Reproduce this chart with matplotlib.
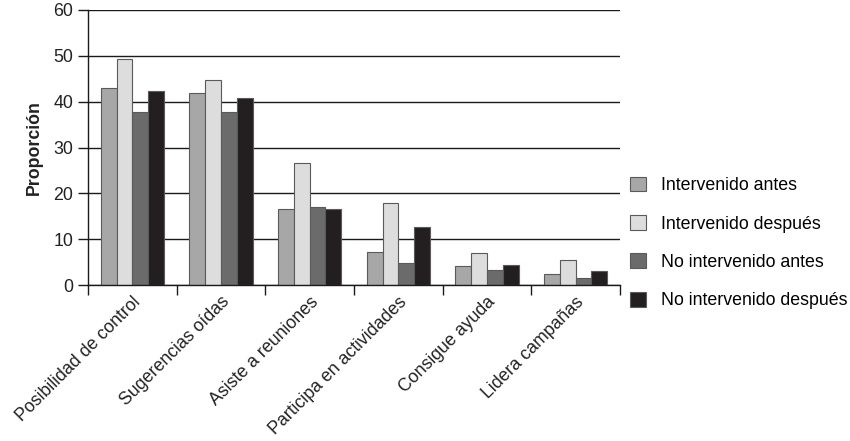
import numpy as np
import matplotlib
matplotlib.use("Agg")
import matplotlib.pyplot as plt

plt.rcParams['font.family'] = ['Liberation Sans', 'DejaVu Sans']

# datos
categorias = ["Posibilidad de control", "Sugerencias oídas", "Asiste a reuniones",
              "Participa en actividades", "Consigue ayuda", "Lidera campañas"]
series = ["Intervenido antes", "Intervenido después",
          "No intervenido antes", "No intervenido después"]
intervenido_antes = [43.0, 42.0, 16.5, 7.1, 4.2, 2.5]
intervenido_despues = [49.4, 44.8, 26.6, 17.8, 7.0, 5.4]
no_intervenido_antes = [37.8, 37.8, 17.1, 4.8, 3.2, 1.5]
no_intervenido_despues = [42.4, 40.9, 16.6, 12.6, 4.3, 3.0]
colores = ["#a7a7a7", "#dddddd", "#6b6b6b", "#231f20"]

valores = [intervenido_antes, intervenido_despues, no_intervenido_antes, no_intervenido_despues]

fs = 12.8

fig = plt.figure(figsize=(8.5, 4.41), dpi=100)
ax = fig.add_axes([88/850, 1 - 285/441, (620 - 88)/850, (285 - 10)/441])

x = np.arange(len(categorias))
ancho = 0.178
for i, (serie, vals) in enumerate(zip(series, valores)):
    ax.bar(x + (i - 1.5)*ancho, vals, ancho, color=colores[i], edgecolor="#5a5a5a",
           linewidth=0.8, label=serie, zorder=2)

ax.set_xlim(-0.5, len(categorias) - 0.5)
ax.set_ylim(0, 60)
ax.set_yticks(range(0, 61, 10))
ax.yaxis.grid(True, color="#1a1a1a", linewidth=1.0)
ax.set_axisbelow(True)

# ticks entre grupos, etiquetas en el centro
ax.set_xticks(np.arange(-0.5, len(categorias)), labels=[])
ax.set_xticks(x, labels=categorias, minor=True)
ax.tick_params(axis="x", which="minor", length=0, pad=6)
ax.tick_params(axis="both", which="major", length=7, width=1.0, color="#1a1a1a")
for lab in ax.get_xticklabels(minor=True):
    lab.set_rotation(45)
    lab.set_ha("right")
    lab.set_rotation_mode("anchor")
    lab.set_fontsize(fs)
    lab.set_color("#222222")
for lab in ax.get_yticklabels():
    lab.set_fontsize(fs)
    lab.set_color("#222222")

for s in ["top", "right"]:
    ax.spines[s].set_visible(False)
for s in ["left", "bottom"]:
    ax.spines[s].set_color("#1a1a1a")
    ax.spines[s].set_linewidth(1.0)

ax.set_ylabel("Proporción", fontsize=fs, fontweight="bold", color="#222222", labelpad=8)

fig.legend(loc="center left", bbox_to_anchor=(623/850, 1 - 243/441), frameon=False,
           fontsize=fs, handlelength=0.9, handleheight=0.9, handletextpad=0.85,
           labelspacing=1.18, borderaxespad=0)

fig.savefig("out.png", dpi=100)
